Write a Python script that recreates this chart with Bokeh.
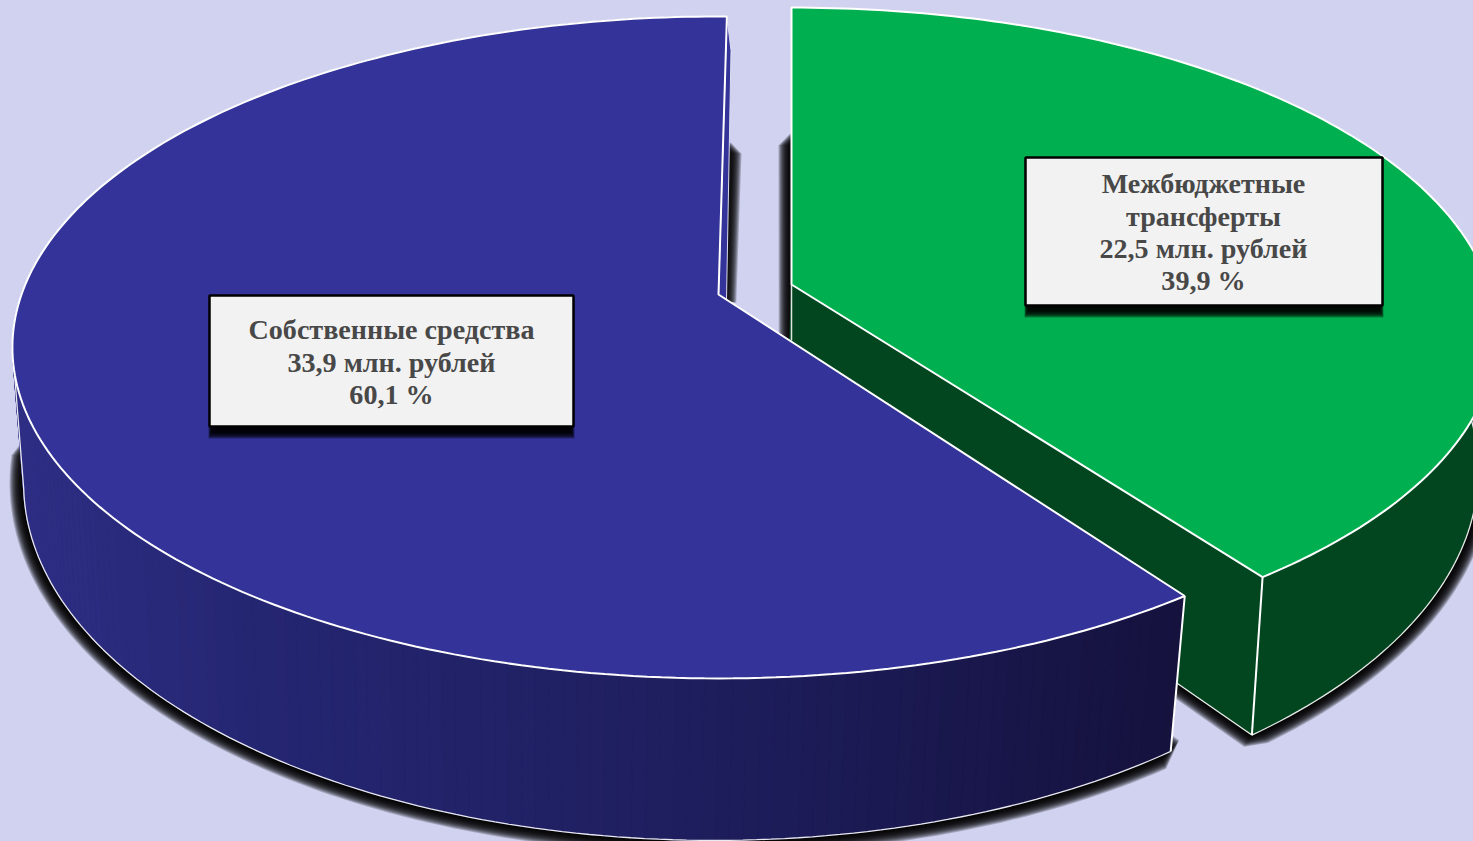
import numpy as np
from bokeh.embed import file_html
from bokeh.models import Range1d
from bokeh.plotting import figure
from bokeh.resources import INLINE
from bokeh.core.properties import value

# ---- data
names = ["Собственные средства", "Межбюджетные трансферты"]
amounts = [33.9, 22.5]
shares = ["60,1 %", "39,9 %"]
blue_lines = ["Собственные средства", "33,9 млн. рублей", "60,1 %"]
green_lines = ["Межбюджетные", "трансферты", "22,5 млн. рублей", "39,9 %"]

BG = "#d0d2f0"
BLUE = "#333399"
GREEN = "#00b050"
GREEN_WALL = "#024620"
WALL_STOPS_X = [20, 250, 700, 1170]
WALL_STOPS_RGB = [(46, 46, 133), (37, 38, 114), (30, 30, 94), (21, 18, 62)]

W, H = 1473, 841
p = figure(width=W, height=H, output_backend="svg", toolbar_location=None,
           x_range=Range1d(0, W), y_range=Range1d(H, 0), min_border=0,
           background_fill_color=BG, border_fill_color=BG, outline_line_color=None)
p.styles = {"background-color": BG}
p.axis.visible = False
p.grid.visible = False

total = sum(amounts)
blue_sweep = 360 * amounts[0] / total
green_sweep = 360 * amounts[1] / total


def rim(apex, A, B, k, deg):
    t = np.radians(np.asarray(deg, dtype=float))
    d = 1 + k * np.cos(t)
    return apex[0] + A * np.sin(t) / d, apex[1] - B * np.cos(t) / d


def dilate(x, y, dist):
    x, y = np.asarray(x, dtype=float), np.asarray(y, dtype=float)
    area = np.sum(x * np.roll(y, -1) - np.roll(x, -1) * y)
    dx = np.roll(x, -1) - np.roll(x, 1)
    dy = np.roll(y, -1) - np.roll(y, 1)
    n = np.hypot(dx, dy) + 1e-9
    s = 1 if area > 0 else -1
    return x + s * dist * dy / n, y - s * dist * dx / n


def shadow(x, y, layers=14, alpha=0.22):
    for dist in range(layers, 0, -1):
        xx, yy = dilate(x, y, dist)
        p.patch(list(xx), list(yy), fill_color="black", fill_alpha=alpha, line_color=None)


def wall_color(xm):
    rgb = [np.interp(xm, WALL_STOPS_X, [c[i] for c in WALL_STOPS_RGB]) for i in range(3)]
    return "#%02x%02x%02x" % tuple(int(round(v)) for v in rgb)


# ---- geometry of the two slices (angles clockwise from the top)
blue_top = dict(apex=(718, 294), A=697, B=322.5, k=0.16)
blue_low = dict(apex=(714, 425.6), A=682, B=348, k=0.16)
green_top = dict(apex=(791, 284), A=697, B=319, k=0.152)
green_low = dict(apex=(787, 413), A=682, B=348, k=0.16)

blue_start = 360.8 - blue_sweep
blue_deg = np.linspace(blue_start, 360.8, 220)
green_deg = np.linspace(0, green_sweep, 150)

bx, by = rim(**blue_top, deg=blue_deg)
blx, bly = rim(**blue_low, deg=blue_deg)
gx, gy = rim(**green_top, deg=green_deg)
glx, gly = rim(**green_low, deg=green_deg)

left_turn = 180 + np.degrees(np.arccos(blue_low["k"]))
front = blue_deg <= left_turn
shaded = blue_deg <= 266
g_arc = green_deg >= 30

# ---- shadows lie under everything
in_front = (726, 300)
shadow(list(blx[shaded]) + [blue_low["apex"][0]], list(bly[shaded]) + [blue_low["apex"][1]])
shadow([700, 730, 731, 726, 700], [152, 152, 153, 300, 300], layers=10)
shadow([green_low["apex"][0]] + list(glx[g_arc]), [green_low["apex"][1]] + list(gly[g_arc]))
shadow([789, 789, 790, 830, 830], [340, 145, 144, 144, 340], layers=11)

# ---- green slice
p.patch([green_top["apex"][0], green_low["apex"][0], glx[-1], gx[-1]],
        [green_top["apex"][1], green_low["apex"][1], gly[-1], gy[-1]],
        fill_color=GREEN_WALL, line_color=GREEN_WALL)
p.patch(list(gx[g_arc]) + list(glx[g_arc][::-1]), list(gy[g_arc]) + list(gly[g_arc][::-1]),
        fill_color=GREEN_WALL, line_color=GREEN_WALL)
p.line([green_low["apex"][0], glx[-1]], [green_low["apex"][1], gly[-1]],
       line_color="#eeeeee", line_width=1.3)
p.line(list(glx[g_arc]), list(gly[g_arc]), line_color="#e8e8e8", line_width=1.3)
p.line([gx[-1], glx[-1]], [gy[-1], gly[-1]], line_color="white", line_width=2)
p.line([green_top["apex"][0]] * 2, [green_top["apex"][1], 340], line_color="#dfe6df", line_width=1.5)
p.patch([green_top["apex"][0]] + list(gx), [green_top["apex"][1]] + list(gy),
        fill_color=GREEN, line_color="white", line_width=2)

# ---- blue slice: sliver of the inner wall, then the outer wall as shaded strips
p.patch([bx[-1], 730.5, in_front[0], blue_top["apex"][0]], [by[-1], 50, in_front[1], blue_top["apex"][1]],
        fill_color=BLUE, line_color="#dcdcf0", line_width=1)
for i in range(len(blue_deg) - 1):
    xs = [bx[i], bx[i + 1], blx[i + 1], blx[i]]
    ys = [by[i], by[i + 1], bly[i + 1], bly[i]]
    col = wall_color(np.mean(xs))
    p.patch(xs, ys, fill_color=col, line_color=col, line_width=1)

# the lower edge stops at the leftmost point of the rim; from there the silhouette runs up to the top face
ltx, lty = rim(**blue_top, deg=[left_turn])
p.line(list(blx[front]) + [ltx[0]], list(bly[front]) + [lty[0]], line_color="#e8e8f0", line_width=1.3)
p.line([bx[0], blx[0]], [by[0], bly[0]], line_color="white", line_width=2)
p.patch([blue_top["apex"][0]] + list(bx), [blue_top["apex"][1]] + list(by),
        fill_color=BLUE, line_color="white", line_width=2)


# ---- value labels
def label(left, top, right, bottom, lines, cx, ys):
    for d in range(8, 0, -1):
        p.quad(left=left + 3 - d / 2, right=right - 3 + d / 2, top=top + 4, bottom=bottom + 4 + d,
               fill_color="black", fill_alpha=0.3, line_color=None)
    p.quad(left=left, right=right, top=top, bottom=bottom,
           fill_color="#f2f2f2", line_color="black", line_width=2.5)
    p.text(x=[cx] * len(lines), y=ys, text=lines, text_align="center", text_baseline="middle",
           text_font=value("Liberation Serif"), text_font_style="bold",
           text_font_size="28.1px", text_color="#484848")


label(209, 295, 573, 426, blue_lines, 391, [329, 362, 394])
label(1025, 157, 1382, 305, green_lines, 1203, [183, 216, 248, 280])

open("out.html", "w").write(file_html(p, INLINE, title=""))
